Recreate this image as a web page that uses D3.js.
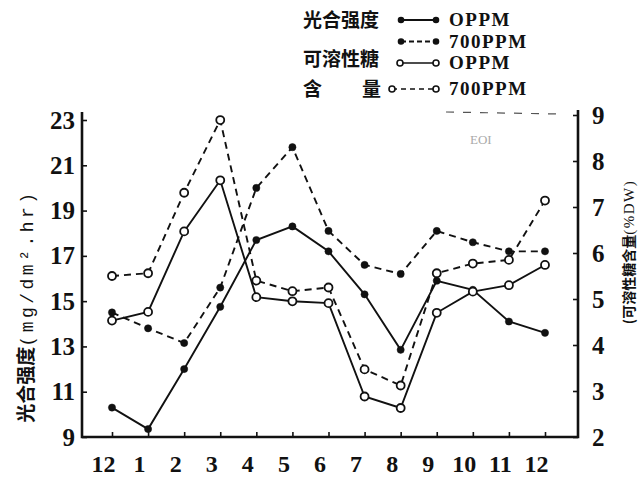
<!DOCTYPE html>
<html>
<head>
<meta charset="utf-8">
<script src="https://cdn.jsdelivr.net/npm/d3@7"></script>
<style>
  body { margin: 0; background: #fff; }
  svg { display: block; }
  .num { font-family: "Liberation Serif", serif; font-weight: bold; fill: #111; }
  .cjk { font-family: "Noto Sans CJK SC", sans-serif; font-weight: bold; fill: #111; }
</style>
</head>
<body>
<div id="chart"></div>
<script>
const W = 639, H = 486
const FRAME = { LEFT: 82, RIGHT: 578, TOP: 112, BOTTOM: 437 }

const months = ["12", "1", "2", "3", "4", "5", "6", "7", "8", "9", "10", "11", "12"]
// 光合强度 (left axis)
const photo0 = [10.3, 9.35, 12.0, 14.75, 17.7, 18.3, 17.2, 15.3, 12.85, 15.9, 15.5, 14.1, 13.6]
const photo700 = [14.5, 13.8, 13.15, 15.6, 20.0, 21.8, 18.1, 16.6, 16.2, 18.1, 17.6, 17.2, 17.2]
// 可溶性糖含量 (right axis)
const sugar0 = [4.53, 4.72, 6.47, 7.58, 5.04, 4.95, 4.91, 2.88, 2.63, 4.7, 5.16, 5.3, 5.74]
const sugar700 = [5.5, 5.56, 7.31, 8.89, 5.4, 5.17, 5.25, 3.47, 3.12, 5.56, 5.77, 5.85, 7.14]

const leftTicks = [9, 11, 13, 15, 17, 19, 21, 23]
const rightTicks = [2, 3, 4, 5, 6, 7, 8, 9]

const svg = d3.select("#chart").append("svg")
    .attr("width", W)
    .attr("height", H)

const x = d3.scalePoint().domain(d3.range(months.length)).range([112, 545])
const yL = d3.scaleLinear().domain([9, 23]).range([FRAME.BOTTOM, 120])
const yR = d3.scaleLinear().domain([2, 9]).range([FRAME.BOTTOM, 115])

// axes (ticks point inward)
const xAxis = svg.append("g")
    .attr("transform", `translate(0, ${FRAME.BOTTOM})`)
    .call(d3.axisBottom(x).tickSize(-5).tickFormat(i => months[i]))
xAxis.selectAll("text")
    .attr("class", "num")
    .attr("font-size", 24)
    .attr("dy", null)
    .attr("y", 35)
    .attr("dx", -9)

const leftAxis = svg.append("g")
    .attr("transform", `translate(${FRAME.LEFT}, 0)`)
    .call(d3.axisLeft(yL).tickValues(leftTicks).tickFormat(d3.format("d")).tickSize(-5).tickPadding(7))
leftAxis.selectAll("text").attr("class", "num").attr("font-size", 25)

const rightAxis = svg.append("g")
    .attr("transform", `translate(${FRAME.RIGHT}, 0)`)
    .call(d3.axisRight(yR).tickValues(rightTicks).tickFormat(d3.format("d")).tickSize(-5).tickPadding(14))
rightAxis.selectAll("text").attr("class", "num").attr("font-size", 25)

svg.selectAll(".domain").remove()
svg.selectAll(".tick line").attr("stroke", "#111").attr("stroke-width", 1.6)

// frame lines
svg.append("path")
    .attr("d", `M${FRAME.LEFT},${FRAME.TOP}V${FRAME.BOTTOM}H${FRAME.RIGHT}V${FRAME.TOP - 2}`)
    .attr("fill", "none")
    .attr("stroke", "#111")
    .attr("stroke-width", 2.6)

// series
const series = [
    { values: photo0, y: yL, dash: null, open: false },
    { values: photo700, y: yL, dash: "7,5", open: false },
    { values: sugar0, y: yR, dash: null, open: true },
    { values: sugar700, y: yR, dash: "7,5", open: true }
]

series.forEach(s => {
    const line = d3.line().x((d, i) => x(i)).y(d => s.y(d))
    svg.append("path")
        .datum(s.values)
        .attr("d", line)
        .attr("fill", "none")
        .attr("stroke", "#111")
        .attr("stroke-width", 1.9)
        .attr("stroke-dasharray", s.dash)
    svg.append("g").selectAll("circle")
        .data(s.values)
        .join("circle")
        .attr("cx", (d, i) => x(i))
        .attr("cy", d => s.y(d))
        .attr("r", s.open ? 4 : 3.6)
        .attr("fill", s.open ? "#fff" : "#111")
        .attr("stroke", "#111")
        .attr("stroke-width", s.open ? 1.8 : 0.5)
})

// axis titles
svg.append("text")
    .attr("transform", "translate(27, 306) rotate(-90)")
    .attr("text-anchor", "middle")
    .attr("dy", "0.35em")
    .call(t => {
        t.append("tspan").attr("class", "cjk").attr("font-size", 19).text("光合强度")
        t.append("tspan").attr("font-family", "Liberation Mono, monospace")
            .attr("font-size", 18).attr("letter-spacing", 3.5).attr("fill", "#111")
            .text("(mg/dm².hr)")
    })

svg.append("text")
    .attr("transform", "translate(628, 252) rotate(-90)")
    .attr("text-anchor", "middle")
    .attr("dy", "0.35em")
    .call(t => {
        t.append("tspan").attr("class", "cjk").attr("font-size", 14).text("(可溶性糖含量")
        t.append("tspan").attr("font-family", "Liberation Serif, serif")
            .attr("font-size", 15).attr("letter-spacing", 1.5).attr("fill", "#111")
            .text("(%DW)")
    })

// legend
const legend = [
    { label: "光合强度", unit: "OPPM", y: 20, dash: null, open: false, x0: 401 },
    { label: "", unit: "700PPM", y: 41.5, dash: "5,3", open: false, x0: 401 },
    { label: "可溶性糖", unit: "OPPM", y: 63, dash: null, open: true, x0: 400 },
    { label: "含", unit: "700PPM", y: 89, dash: "5,4", open: true, x0: 392 }
]
const lg = svg.append("g")
legend.forEach(d => {
    lg.append("line")
        .attr("x1", d.x0).attr("x2", 436)
        .attr("y1", d.y).attr("y2", d.y)
        .attr("stroke", "#111").attr("stroke-width", d.open ? 1.6 : 2)
        .attr("stroke-dasharray", d.dash)
    ;[d.x0, 436].forEach(cx => {
        lg.append("circle")
            .attr("cx", cx).attr("cy", d.y)
            .attr("r", d.open ? 3 : 2.5)
            .attr("fill", d.open ? "#fff" : "#111")
            .attr("stroke", "#111").attr("stroke-width", 1.6)
    })
    lg.append("text")
        .attr("class", "cjk")
        .attr("x", 303).attr("y", d.label === "可溶性糖" ? 59 : d.y).attr("dy", "0.36em")
        .attr("font-size", 19)
        .text(d.label)
    lg.append("text")
        .attr("class", "num")
        .attr("x", 449).attr("y", d.y).attr("dy", "0.34em")
        .attr("font-size", 19)
        .attr("letter-spacing", 1.5)
        .text(d.unit)
})
lg.append("text")
    .attr("class", "cjk")
    .attr("x", 362).attr("y", 89).attr("dy", "0.36em")
    .attr("font-size", 19)
    .text("量")

// scan marks
svg.append("line")
    .attr("x1", 446).attr("x2", 558).attr("y1", 112).attr("y2", 114)
    .attr("stroke", "#555").attr("stroke-width", 1.2).attr("stroke-dasharray", "8,9")
svg.append("text")
    .attr("x", 470).attr("y", 144)
    .attr("font-family", "Liberation Serif, serif")
    .attr("font-size", 13).attr("fill", "#aaa")
    .text("EOI")
</script>
</body>
</html>
